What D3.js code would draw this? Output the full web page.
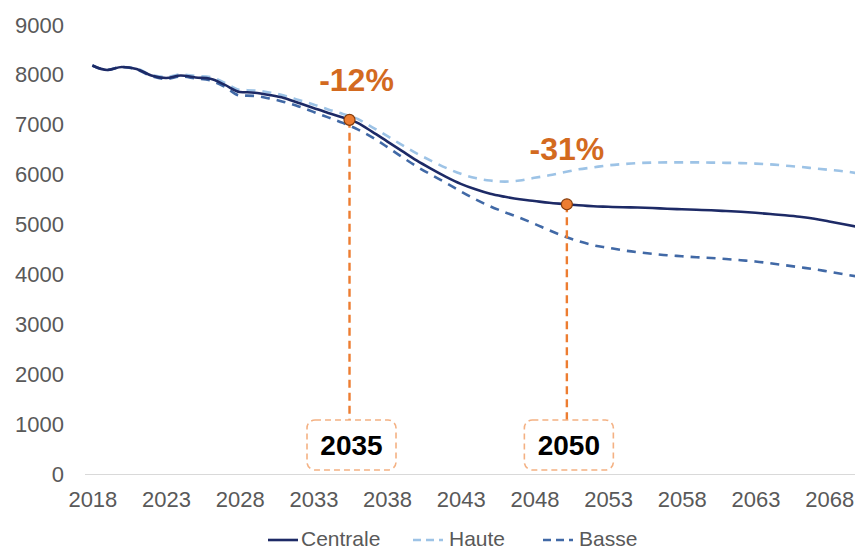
<!DOCTYPE html>
<html>
<head>
<meta charset="utf-8">
<script src="https://cdn.jsdelivr.net/npm/d3@7"></script>
<style>
  html, body { margin: 0; padding: 0; background: #fff; }
  svg { display: block; font-family: "Liberation Sans", Arial, sans-serif; }
</style>
</head>
<body>
<svg id="chart" width="855" height="551"></svg>
<script>
const years = d3.range(2018, 2071);
const tickYears = [2018, 2023, 2028, 2033, 2038, 2043, 2048, 2053, 2058, 2063, 2068];
const yTicks = [0, 1000, 2000, 3000, 4000, 5000, 6000, 7000, 8000, 9000];
const seriesNames = ["Centrale", "Haute", "Basse"];

const centrale = [8190, 8100, 8160, 8120, 7990, 7940, 7990, 7950, 7925, 7800,
                  7660, 7645, 7600, 7540, 7440, 7340, 7240, 7150, 7040, 6860,
                  6670, 6480, 6290, 6120, 5960, 5820, 5710, 5620, 5560, 5510,
                  5475, 5440, 5415, 5390, 5370, 5360, 5350, 5345, 5335, 5320,
                  5310, 5300, 5290, 5275, 5260, 5240, 5215, 5190, 5160, 5120,
                  5065, 5010, 4955];
const haute =    [8190, 8100, 8160, 8130, 8000, 7960, 8010, 7980, 7960, 7840,
                  7700, 7690, 7650, 7590, 7500, 7410, 7310, 7220, 7120, 6950,
                  6780, 6600, 6430, 6280, 6140, 6020, 5935, 5885, 5865, 5885,
                  5940, 5990, 6050, 6110, 6150, 6190, 6215, 6235, 6245, 6250,
                  6250, 6250, 6245, 6240, 6235, 6225, 6210, 6185, 6160, 6130,
                  6100, 6070, 6030];
const basse =    [8190, 8100, 8160, 8110, 7980, 7920, 7970, 7930, 7890, 7760,
                  7590, 7580, 7530, 7460, 7370, 7260, 7150, 7040, 6910, 6750,
                  6560, 6360, 6170, 6000, 5840, 5670, 5510, 5370, 5250, 5140,
                  5020, 4890, 4770, 4670, 4590, 4540, 4490, 4450, 4420, 4390,
                  4370, 4350, 4335, 4315, 4290, 4265, 4230, 4190, 4150, 4110,
                  4060, 4010, 3960];

const annotYears = [2035, 2050];
const annotLabels = ["-12%", "-31%"];

const svg = d3.select("#chart");
const W = 855, H = 551;

const x = d3.scalePoint().domain(years).range([85, 866]).padding(0.5);
const y = d3.scaleLinear().domain([0, 9000]).range([474.5, 25]);
const step = x.step();

const seriesData = [
  { name: "Centrale", values: centrale, color: "#1d2a66", dash: null, width: 2.6 },
  { name: "Haute", values: haute, color: "#9dc3e6", dash: "9,7", width: 2.6 },
  { name: "Basse", values: basse, color: "#4169a6", dash: "9,7", width: 2.6 }
];

// baseline
svg.append("line")
  .attr("x1", 85).attr("x2", W)
  .attr("y1", y(0)).attr("y2", y(0))
  .attr("stroke", "#d9d9d9").attr("stroke-width", 1.2);

// y axis
const yAxis = d3.axisLeft(y).tickValues(yTicks).tickFormat(d3.format("d")).tickSize(0).tickPadding(0);
const gy = svg.append("g").attr("transform", "translate(64,0)").call(yAxis);
gy.select(".domain").remove();
gy.selectAll("text")
  .attr("font-size", 22).attr("fill", "#595959")
  .attr("font-family", "Liberation Sans, Arial, sans-serif");

// x axis
const xAxis = d3.axisBottom(x).tickValues(tickYears).tickFormat(d3.format("d")).tickSize(0).tickPadding(0);
const gx = svg.append("g").attr("transform", `translate(0,${y(0) + 17})`).call(xAxis);
gx.select(".domain").remove();
gx.selectAll("text")
  .attr("font-size", 22).attr("fill", "#595959")
  .attr("font-family", "Liberation Sans, Arial, sans-serif");

// clip
svg.append("clipPath").attr("id", "plotclip")
  .append("rect").attr("x", 80).attr("y", 0).attr("width", W - 80).attr("height", H);

const line = d3.line()
  .x((d, i) => x(years[i]))
  .y(d => y(d))
  .curve(d3.curveMonotoneX);

const plot = svg.append("g").attr("clip-path", "url(#plotclip)");
[seriesData[1], seriesData[2], seriesData[0]].forEach(s => {
  plot.append("path")
    .datum(s.values)
    .attr("d", line)
    .attr("fill", "none")
    .attr("stroke", s.color)
    .attr("stroke-width", s.width)
    .attr("stroke-dasharray", s.dash)
    .attr("stroke-linejoin", "round");
});

// annotations
const annotOffsets = [0.45, 0.2];
const labelLift = [29, 44];
annotYears.forEach((yr, k) => {
  const i = years.indexOf(yr);
  const f = annotOffsets[k];
  const v = centrale[i] + (centrale[i + 1] - centrale[i]) * f;
  const cx = x(yr) + f * step;
  const cy = y(v);
  const boxTop = 420, boxH = 50, boxW = 89;
  svg.append("line")
    .attr("x1", cx).attr("x2", cx)
    .attr("y1", cy).attr("y2", boxTop)
    .attr("stroke", "#ed7d31").attr("stroke-width", 2.4)
    .attr("stroke-dasharray", "8,5");
  svg.append("rect")
    .attr("x", cx - boxW / 2 + 2).attr("y", boxTop)
    .attr("width", boxW).attr("height", boxH)
    .attr("rx", 8).attr("ry", 8)
    .attr("fill", "#fff")
    .attr("stroke", "#f4b183").attr("stroke-width", 1.6)
    .attr("stroke-dasharray", "6,4");
  svg.append("text")
    .attr("x", cx + 2).attr("y", boxTop + 35)
    .attr("text-anchor", "middle")
    .attr("font-size", 28).attr("font-weight", "bold")
    .attr("fill", "#000")
    .text(yr);
  svg.append("circle")
    .attr("cx", cx).attr("cy", cy).attr("r", 5.5)
    .attr("fill", "#ed7d31").attr("stroke", "#843c0c").attr("stroke-width", 1.2);
  svg.append("text")
    .attr("x", cx + 7 - k * 7).attr("y", cy - labelLift[k])
    .attr("text-anchor", "middle")
    .attr("font-size", 32).attr("font-weight", "bold")
    .attr("fill", "#d36a1f")
    .text(annotLabels[k]);
});

// legend
const legendX = [268, 413, 543];
const legend = svg.append("g");
seriesData.forEach((s, i) => {
  const lx = legendX[i];
  legend.append("line")
    .attr("x1", lx).attr("x2", lx + 30)
    .attr("y1", 540).attr("y2", 540)
    .attr("stroke", s.color).attr("stroke-width", 2.6)
    .attr("stroke-dasharray", s.dash ? "8,5" : null);
  legend.append("text")
    .attr("x", lx + (i === 0 ? 33 : 36)).attr("y", 546)
    .attr("font-size", 21).attr("fill", "#595959")
    .text(s.name);
});
</script>
</body>
</html>
